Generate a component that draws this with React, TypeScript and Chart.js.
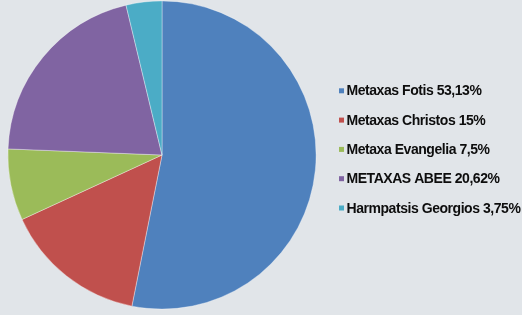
import React, { useEffect, useRef } from "react";
import { Chart, registerables } from "chart.js";

Chart.register(...registerables);

const labels = [
  "Metaxas Fotis 53,13%",
  "Metaxas Christos 15%",
  "Metaxa Evangelia 7,5%",
  "METAXAS ABEE 20,62%",
  "Harmpatsis Georgios 3,75%",
];
const values = [53.13, 15, 7.5, 20.62, 3.75];
const colors = ["#4F81BD", "#C0504D", "#9BBB59", "#8064A2", "#4BACC6"];

// Legend drawn on the chart canvas from the chart's own labels and colours
const sideLegend = {
  id: "sideLegend",
  afterDraw(chart: any) {
    const ctx = chart.ctx;
    const ds = chart.data.datasets[0];
    const boxX = 339;
    const textX = 346.5;
    const startY = 90.8;
    const step = 29.3;
    const box = 5;
    ctx.save();
    (ctx as any).letterSpacing = "-0.45px";
    ctx.font = "bold 14px 'Liberation Sans', Arial, sans-serif";
    ctx.textBaseline = "middle";
    ctx.textAlign = "left";
    (chart.data.labels as string[]).forEach((label, i) => {
      const cy = startY + i * step;
      ctx.fillStyle = ds.backgroundColor[i];
      ctx.fillRect(boxX, cy - box / 2, box, box);
      ctx.fillStyle = "#0d0d0d";
      ctx.fillText(label, textX, cy + 0.8);
    });
    ctx.restore();
  },
};

export default function App() {
  const ref = useRef<HTMLCanvasElement | null>(null);
  useEffect(() => {
    document.body.style.margin = "0";
    const ctx = ref.current!;
    const chart = new Chart(ctx, {
      type: "pie",
      data: {
        labels,
        datasets: [
          {
            data: values,
            backgroundColor: colors,
            borderColor: "rgba(255,255,255,0.45)",
            borderWidth: 0.8,
          },
        ],
      },
      plugins: [sideLegend],
      options: {
        animation: false,
        responsive: false,
        layout: { padding: { top: 0.5, bottom: 5.5, left: 0, right: 198 } },
        plugins: {
          tooltip: { enabled: false },
          legend: { display: false },
        },
      },
    });
    return () => chart.destroy();
  }, []);
  return (
    <div style={{ position: "fixed", left: 0, top: 0, width: 522, height: 315, background: "#E1E5E9" }}>
      <canvas ref={ref} width={522} height={315} style={{ display: "block" }} />
    </div>
  );
}
